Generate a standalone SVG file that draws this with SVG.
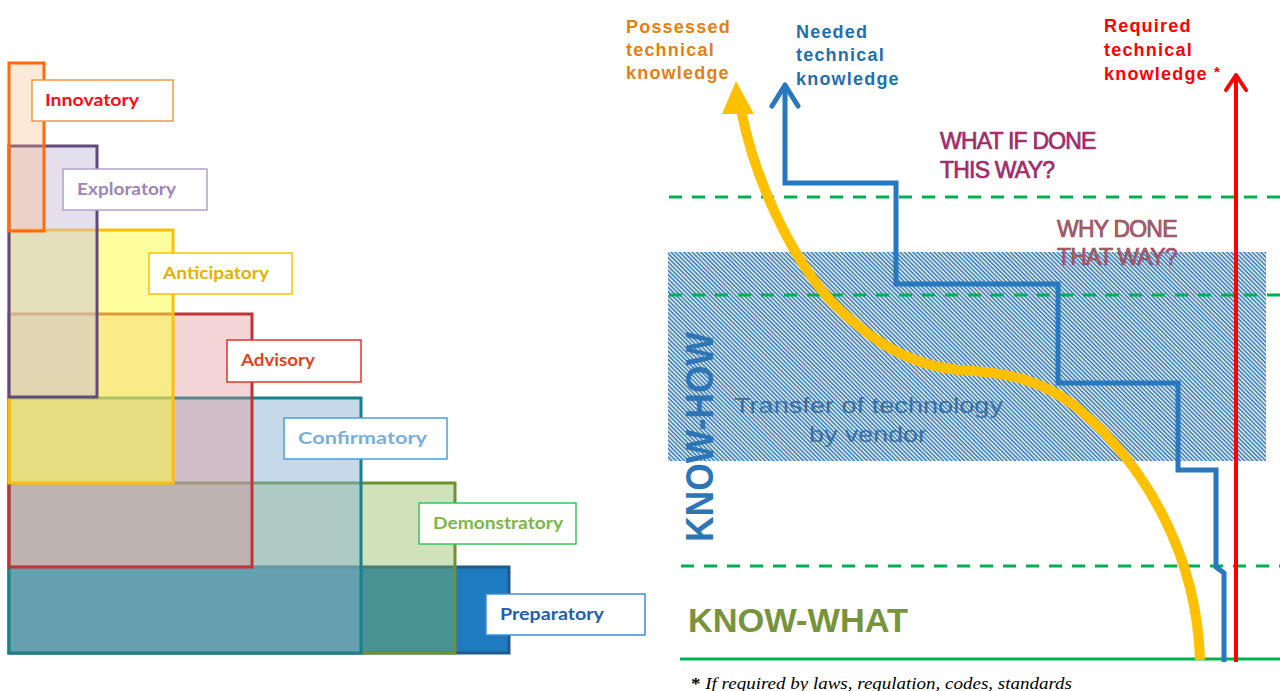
<svg xmlns="http://www.w3.org/2000/svg" width="1280" height="691" viewBox="0 0 1280 691">
<style>
.lbl{fill:#fff;stroke-width:1.5}
.lt{font-family:Lato,"Open Sans",sans-serif;font-weight:700;font-size:17px}
.hd{font-family:"Liberation Sans",Arial,sans-serif;font-weight:700;font-size:18px}
.q{font-family:"Liberation Sans",Arial,sans-serif;font-size:23px;letter-spacing:-0.8px;stroke-width:0.7}
.dash{stroke:#00b050;stroke-width:3;stroke-dasharray:13 10;fill:none}
</style>
<defs>
<pattern id="hatch" patternUnits="userSpaceOnUse" width="6" height="3" patternTransform="rotate(45)">
<rect x="0" y="0" width="6" height="1.6" fill="#2e75b6"/>
</pattern>
</defs>
<rect width="1280" height="691" fill="#fff"/>

<!-- left stacked rectangles -->
<g id="preparatory">
<rect x="9" y="567" width="500" height="86" fill="#1f7bbf" stroke="#1f5a8a" stroke-width="3"/>
</g>
<g id="demonstratory">
<rect x="9" y="483" width="446" height="170" fill="#89b650" fill-opacity="0.4" stroke="#6e9132" stroke-width="3"/>
</g>
<g id="confirmatory">
<rect x="9" y="398" width="352" height="255" fill="#86aed2" fill-opacity="0.47" stroke="#17818d" stroke-width="3"/>
</g>
<g id="advisory">
<rect x="9" y="314" width="243" height="253" fill="#df8a8a" fill-opacity="0.35" stroke="#be3535" stroke-width="3"/>
</g>
<g id="anticipatory">
<rect x="9" y="230" width="164" height="253" fill="#ffff3c" fill-opacity="0.5" stroke="#ffc000" stroke-width="3"/>
</g>
<g id="exploratory">
<rect x="9" y="146" width="88" height="251" fill="#c9bfd9" fill-opacity="0.5" stroke="#604a7b" stroke-width="3"/>
</g>
<g id="innovatory">
<rect x="9" y="63" width="35" height="168" fill="#f8b67a" fill-opacity="0.3" stroke="#ff6a10" stroke-width="3"/>
</g>

<!-- labels -->
<g id="label-innovatory">
<rect class="lbl" x="32" y="80" width="141" height="41" stroke="#f79646"/>
<text class="lt" x="45" y="106" fill="#ff0a1a" textLength="94" lengthAdjust="spacingAndGlyphs">Innovatory</text>
</g>
<g id="label-exploratory">
<rect class="lbl" x="63" y="169" width="144" height="41" stroke="#b3a2c7"/>
<text class="lt" x="77" y="195" fill="#9c85b8" textLength="99" lengthAdjust="spacingAndGlyphs">Exploratory</text>
</g>
<g id="label-anticipatory">
<rect class="lbl" x="149" y="253" width="143" height="41" stroke="#ffc000"/>
<text class="lt" x="163" y="279" fill="#e6b000" textLength="106" lengthAdjust="spacingAndGlyphs">Anticipatory</text>
</g>
<g id="label-advisory">
<rect class="lbl" x="227" y="340" width="134" height="42" stroke="#e83030"/>
<text class="lt" x="241" y="366" fill="#e0441e" textLength="74" lengthAdjust="spacingAndGlyphs">Advisory</text>
</g>
<g id="label-confirmatory">
<rect class="lbl" x="284" y="418" width="163" height="41" stroke="#4a9ee0"/>
<text class="lt" x="298" y="444" fill="#7aaee0" textLength="129" lengthAdjust="spacingAndGlyphs">Confirmatory</text>
</g>
<g id="label-demonstratory">
<rect class="lbl" x="419" y="503" width="157" height="41" stroke="#3fbf5f"/>
<text class="lt" x="433" y="529" fill="#7ab648" textLength="130" lengthAdjust="spacingAndGlyphs">Demonstratory</text>
</g>
<g id="label-preparatory">
<rect class="lbl" x="486" y="594" width="159" height="41" stroke="#3a8edc"/>
<text class="lt" x="500" y="620" fill="#1f5fb0" textLength="104" lengthAdjust="spacingAndGlyphs">Preparatory</text>
</g>

<!-- right side -->
<g id="know-how-band">
<rect x="668" y="252" width="598" height="209" fill="url(#hatch)"/>
<text x="734" y="413" font-family="'Liberation Sans',Arial,sans-serif" font-size="22" fill="#3a6ea5" textLength="269" lengthAdjust="spacingAndGlyphs">Transfer of technology</text>
<text x="809" y="442" font-family="'Liberation Sans',Arial,sans-serif" font-size="22" fill="#3a6ea5" textLength="118" lengthAdjust="spacingAndGlyphs">by vendor</text>
</g>

<g id="connectors">
<line class="dash" x1="669" y1="197" x2="1280" y2="197"/>
<line class="dash" x1="669" y1="295" x2="1280" y2="295"/>
<line class="dash" x1="681" y1="566" x2="1280" y2="566"/>
<line x1="680" y1="659" x2="1280" y2="659" stroke="#00b050" stroke-width="3"/>

<!-- possessed (yellow curve) -->
<path d="M1200 660 C1197 560 1150 470 1080 410 C1040 377 1000 372 960 370 C900 365 860 330 830 300 C790 255 755 180 741 110" fill="none" stroke="#ffc000" stroke-width="10"/>
<polygon points="722,114 736,81 754,114" fill="#ffc000"/>

<!-- needed (blue steps) -->
<polyline points="1224,662 1224,573 1216,567 1216,470 1178,470 1178,383 1058,383 1058,284 896,284 896,183 785,183 785,88" fill="none" stroke="#2878c0" stroke-width="5" stroke-linejoin="miter"/>
<polyline points="772,106 785,85 798,106" fill="none" stroke="#2878c0" stroke-width="5" stroke-linecap="round" stroke-linejoin="round"/>

<!-- required (red) -->
<line x1="1236" y1="662" x2="1236" y2="77" stroke="#ff0000" stroke-width="4"/>
<polyline points="1226,90 1236,75 1246,90" fill="none" stroke="#ff0000" stroke-width="4" stroke-linecap="round" stroke-linejoin="round"/>
</g>

<g id="possessed-label">
<text class="hd" fill="#e48015" letter-spacing="1.2"><tspan x="626" y="33">Possessed</tspan><tspan x="626" y="56">technical</tspan><tspan x="626" y="79">knowledge</tspan></text>
</g>
<g id="needed-label">
<text class="hd" fill="#1f6fb0" letter-spacing="1.2"><tspan x="796" y="38">Needed</tspan><tspan x="796" y="61">technical</tspan><tspan x="796" y="85">knowledge</tspan></text>
</g>
<g id="required-label">
<text class="hd" fill="#ff0000" letter-spacing="1.2"><tspan x="1104" y="32">Required</tspan><tspan x="1104" y="56">technical</tspan><tspan x="1104" y="80">knowledge <tspan font-size="15" dy="-3">*</tspan></tspan></text>
</g>

<g id="what-if">
<text class="q" fill="#c8204a" stroke="#7a3a8a"><tspan x="940" y="149">WHAT IF DONE</tspan><tspan x="940" y="178">THIS WAY?</tspan></text>
</g>
<g id="why-done">
<text class="q" fill="#c0603a" stroke="#7a4a8a"><tspan x="1057" y="237">WHY DONE</tspan><tspan x="1057" y="265">THAT WAY?</tspan></text>
</g>

<g id="know-how">
<text transform="translate(713 542) rotate(-90)" font-family="'Liberation Sans',Arial,sans-serif" font-weight="700" font-size="38" fill="#2e75b6" textLength="210" lengthAdjust="spacingAndGlyphs">KNOW-HOW</text>
</g>
<g id="know-what">
<text x="688" y="632" font-family="'Liberation Sans',Arial,sans-serif" font-weight="700" font-size="34" fill="#77933c" textLength="220" lengthAdjust="spacingAndGlyphs">KNOW-WHAT</text>
</g>
<g id="footnote">
<text x="691" y="689" font-family="'Liberation Serif','Times New Roman',serif" font-style="italic" font-size="17" fill="#000" textLength="381" lengthAdjust="spacingAndGlyphs"><tspan font-style="normal" font-weight="700">*</tspan> If required by laws, regulation, codes, standards</text>
</g>
</svg>
